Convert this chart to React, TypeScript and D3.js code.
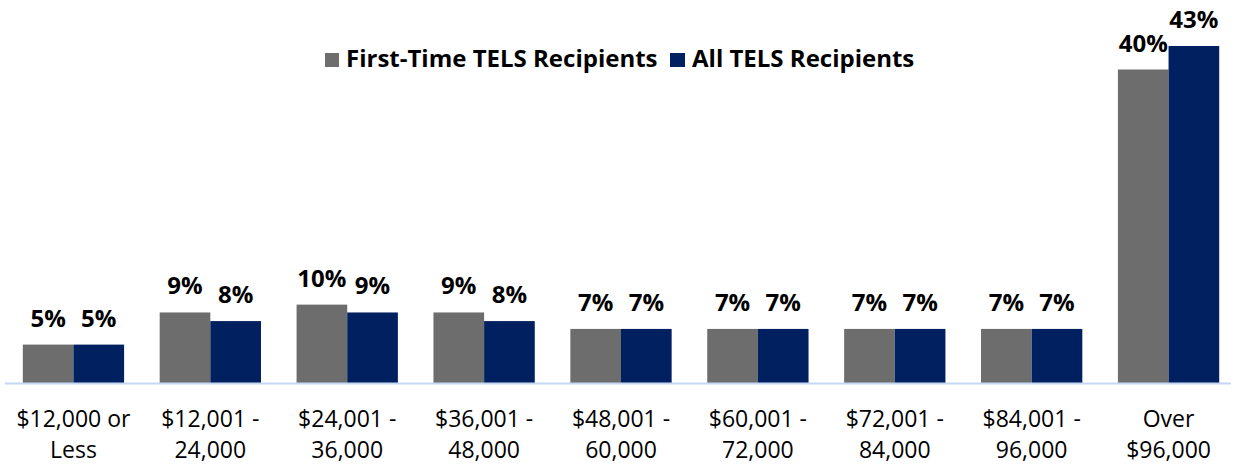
import React from "react";
import * as d3 from "d3";

const categories = [
  ["$12,000 or", "Less"],
  ["$12,001 -", "24,000"],
  ["$24,001 -", "36,000"],
  ["$36,001 -", "48,000"],
  ["$48,001 -", "60,000"],
  ["$60,001 -", "72,000"],
  ["$72,001 -", "84,000"],
  ["$84,001 -", "96,000"],
  ["Over", "$96,000"],
];
const firstTime = [4.9, 9.0, 10.0, 9.0, 6.9, 6.9, 6.9, 6.9, 40.0];
const allRecipients = [4.9, 7.9, 9.0, 7.9, 6.9, 6.9, 6.9, 6.9, 43.0];
const seriesNames = ["First-Time TELS Recipients", "All TELS Recipients"];
const colors = ["#6d6d6d", "#002060"];

const W = 1233;
const H = 466;
const FONT = "'Open Sans', 'Noto Sans', sans-serif";

export default function App() {
  const keys = categories.map((c) => c.join(" "));
  const x = d3.scaleBand<string>().domain(keys).range([5, 1237]).paddingInner(0.26).paddingOuter(0.13);
  const x1 = d3.scaleBand<number>().domain([0, 1]).range([0, x.bandwidth()]);
  const y = d3.scaleLinear().domain([0, 43]).range([383, 46]);
  const series = [firstTime, allRecipients];

  return (
    <svg width={W} height={H} style={{ position: "absolute", left: 0, top: 0 }} fontFamily={FONT}>
      <rect width={W} height={H} fill="#ffffff" />
      {series.map((vals, si) =>
        vals.map((v, i) => {
          const bx = (x(keys[i]) ?? 0) + (x1(si) ?? 0);
          return (
            <g key={`${si}-${i}`}>
              <rect x={bx} y={y(v)} width={x1.bandwidth()} height={y(0) - y(v)} fill={colors[si]} />
              <text
                x={bx + x1.bandwidth() / 2}
                y={y(v) - 18}
                textAnchor="middle"
                fontSize={24}
                fontWeight={700}
                fill="#000"
              >
                {Math.round(v)}%
              </text>
            </g>
          );
        })
      )}
      <line x1={5} x2={1231} y1={y(0) + 0.5} y2={y(0) + 0.5} stroke="#c5d7f2" strokeWidth={2} />
      {categories.map((lines, i) => {
        const cx = (x(keys[i]) ?? 0) + x.bandwidth() / 2;
        return (
          <text key={i} textAnchor="middle" fontSize={23} fill="#000">
            <tspan x={cx} y={427}>{lines[0]}</tspan>
            <tspan x={cx} y={458}>{lines[1]}</tspan>
          </text>
        );
      })}
      <g>
        <rect x={325} y={53} width={14} height={14} fill={colors[0]} />
        <text x={346} y={67} fontSize={24} fontWeight={700} fill="#000">{seriesNames[0]}</text>
        <rect x={670} y={53} width={15} height={14} fill={colors[1]} />
        <text x={692} y={67} fontSize={24} fontWeight={700} fill="#000">{seriesNames[1]}</text>
      </g>
    </svg>
  );
}
